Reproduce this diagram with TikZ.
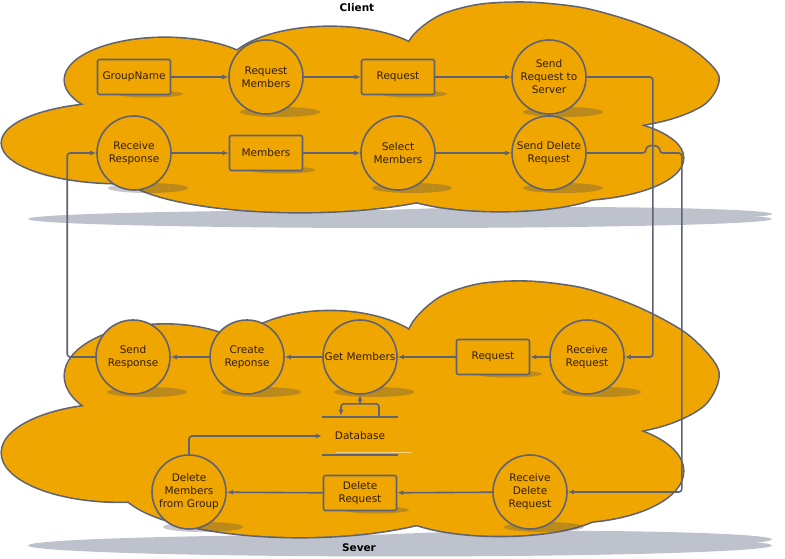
\documentclass[tikz,border=0pt]{standalone}
\usepackage{fontspec}
\setmainfont{DejaVu Sans}
\usetikzlibrary{arrows.meta, positioning, calc}

\definecolor{cloudfill}{RGB}{240,166,0}
\definecolor{edgegray}{RGB}{94,98,114}
\definecolor{cloudshade}{RGB}{190,194,204}
\definecolor{shadowgray}{RGB}{70,70,90}
\definecolor{inktext}{RGB}{50,30,5}

\pgfdeclarelayer{bg}
\pgfdeclarelayer{shade}
\pgfsetlayers{bg,shade,main}

\newcommand{\nodefont}{\fontsize{10.5}{13}\selectfont}

% one cloud: shadow, outline of all lobes, then the fill over it
\newcommand{\cloudlobes}{165/80/100/42, 120/143/118/40, 330/72/105/45,
    570/158/113/42, 500/185/110/26, 300/170/180/42, 380/115/240/70}
\newcommand{\drawcloud}{%
  \fill[cloudshade] (400,219) ellipse [x radius=372, y radius=9];
  \fill[cloudshade] (560,214) ellipse [x radius=212, y radius=7];
  \foreach \cx/\cy/\rx/\ry in \cloudlobes
    \draw[edgegray, line width=3.2pt] (\cx,\cy) ellipse [x radius=\rx, y radius=\ry];
  \draw[edgegray, line width=3.2pt] plot[smooth cycle] coordinates {(402,70) (412,38)
      (440,16) (480,5) (530,3) (585,9) (640,25) (688,47) (718,76) (705,103)
      (665,120) (600,130) (520,128) (450,112) (412,95)};
  \foreach \cx/\cy/\rx/\ry in \cloudlobes
    \fill[cloudfill] (\cx,\cy) ellipse [x radius=\rx, y radius=\ry];
  \fill[cloudfill] plot[smooth cycle] coordinates {(402,70) (412,38)
      (440,16) (480,5) (530,3) (585,9) (640,25) (688,47) (718,76) (705,103)
      (665,120) (600,130) (520,128) (450,112) (412,95)};
}

\begin{document}
\begin{tikzpicture}[
        x=1pt, y=-1pt,
        >={Latex[length=6pt,width=5pt]},
        proc/.style={circle, draw=edgegray, line width=1.6pt, fill=cloudfill,
            minimum size=74pt, inner sep=0pt, align=center, text=inktext, font=\nodefont},
        entity/.style={rectangle, rounded corners=2pt, draw=edgegray, line width=1.6pt,
            fill=cloudfill, minimum width=73pt, minimum height=35pt, inner sep=1pt,
            align=center, text=inktext, font=\nodefont},
        store/.style={minimum width=76pt, minimum height=38pt, inner sep=0pt,
            text=inktext, font=\nodefont},
        flow/.style={->, draw=edgegray, line width=1.6pt, rounded corners=3pt},
        title/.style={font=\bfseries\fontsize{10.5}{13}\selectfont},
        drop/.style={fill=shadowgray, opacity=.3}
    ]
        \useasboundingbox (0,0) rectangle (785,559);

        % clouds
        \begin{pgfonlayer}{bg}
            \drawcloud
            \begin{scope}[shift={(0,278.3)}, yscale=1.22]
                \drawcloud
            \end{scope}
        \end{pgfonlayer}

        \node[title] (client) at (357,8) {Client};
        \node[title] (sever) at (359,548) {Sever};

        % client, first row
        \node[entity] (grp) at (134,77) {GroupName};
        \node[proc] (reqm) at (266,77) {Request\\Members};
        \node[entity] (req) at (398,77) {Request};
        \node[proc] (sendreq) at (549,77) {Send\\Request to\\Server};

        % client, second row
        \node[proc] (recvresp) at (134,153) {Receive\\Response};
        \node[entity] (mem) at (266,153) {Members};
        \node[proc] (selm) at (398,153) {Select\\Members};
        \node[proc] (senddel) at (549,153) {Send Delete\\Request};

        % server
        \node[proc] (sendresp) at (133,357) {Send\\Response};
        \node[proc] (crresp) at (247,357) {Create\\Reponse};
        \node[proc] (getm) at (360,357) {Get Members};
        \node[entity] (sreq) at (493,357) {Request};
        \node[proc] (recvreq) at (587,357) {Receive\\Request};
        \node[store] (db) at (360,436) {Database};
        \node[proc] (delm) at (189,492) {Delete\\Members\\from Group};
        \node[entity] (delreq) at (360,493) {Delete\\Request};
        \node[proc] (recvdel) at (530,492) {Receive\\Delete\\Request};

        \draw[edgegray, line width=1.6pt] (db.north west) -- (db.north east)
            (db.south west) -- (db.south east);

        % shadows under the nodes
        \begin{pgfonlayer}{shade}
            \foreach \n in {reqm, sendreq, recvresp, selm, senddel, sendresp,
                    crresp, getm, recvreq, delm, recvdel}
                \fill[drop] ($(\n)+(14,35)$) ellipse [x radius=40, y radius=5];
            \foreach \n in {grp, req, mem, sreq, delreq}
                \fill[drop] ($(\n)+(16,17)$) ellipse [x radius=33, y radius=3.5];
            \draw[cloudfill!50!white, line width=1.2pt]
                ($(db.south west)+(14,-3)$) -- ($(db.south east)+(14,-3)$);
        \end{pgfonlayer}

        % client flows
        \draw[flow] (grp) -- (reqm);
        \draw[flow] (reqm) -- (req);
        \draw[flow] (req) -- (sendreq);
        \draw[flow] (recvresp) -- (mem);
        \draw[flow] (mem) -- (selm);
        \draw[flow] (selm) -- (senddel);

        % client to server
        \coordinate (hop) at ($(senddel.east)+(66,0)$);
        \draw[flow] (sendreq.east) -- (sendreq.east -| hop) |- (recvreq.east);
        \draw[flow] (senddel.east) -- ($(hop)+(-7,0)$)
            .. controls ($(hop)+(-7,-9)$) and ($(hop)+(7,-9)$) .. ($(hop)+(7,0)$)
            -- ($(hop)+(29,0)$) |- (recvdel.east);

        % server flows
        \draw[flow] (recvreq) -- (sreq);
        \draw[flow] (sreq) -- (getm);
        \draw[flow] (getm) -- (crresp);
        \draw[flow] (crresp) -- (sendresp);
        \draw[flow] ($(db.north)+(19,0)$) |- ($(db.north)+(-19,-13)$) -- ($(db.north)+(-19,-1)$);
        \draw[flow] ($(db.north)+(0,-13)$) -- (getm.south);
        \draw[flow] (recvdel) -- (delreq);
        \draw[flow] (delreq) -- (delm);
        \draw[flow] (delm.north) |- (db.west);

        % server back to client
        \draw[flow] (sendresp.west) -- ++(-28,0) |- (recvresp.west);

    \end{tikzpicture}
\end{document}
